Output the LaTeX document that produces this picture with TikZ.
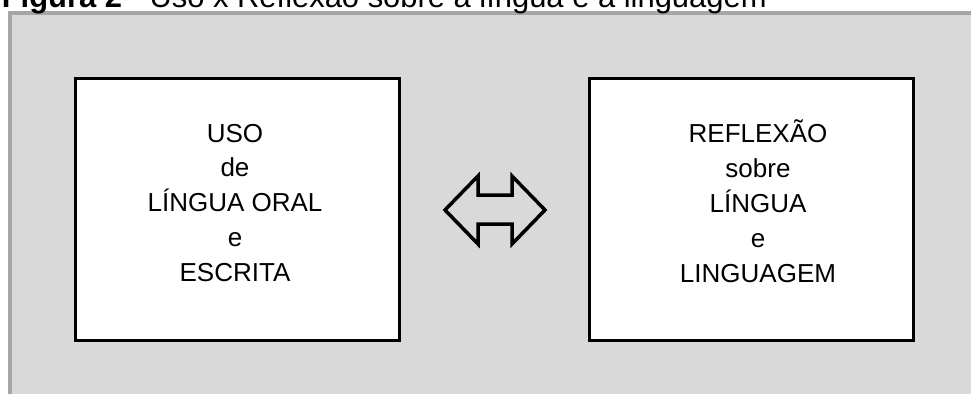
\documentclass[tikz,border=0pt]{standalone}
\usepackage{fontspec}
\setmainfont{Liberation Sans}

\begin{document}
\begin{tikzpicture}[x = 0.02cm, y = -0.02cm,
painel/.style = {draw = black!35, fill = black!15, line width = 0.08cm},
caixa/.style = {draw = black, fill = white, line width = 0.06cm, minimum width = 6.5cm, minimum height = 5.26cm, inner sep = 0},
texto/.style = {align = center, font = \fontsize{14.8pt}{19.9pt}\selectfont, inner sep = 0},
seta/.style = {draw = black, line width = 0.07cm, line join = miter},
]
\clip (0, 0) rectangle (971, 393);
\fill[white] (0, 0) rectangle (971, 393);
\draw[painel] (10, 13) rectangle (990, 410);
\node[anchor = base east, inner sep = 0, font = \fontsize{17.6pt}{20pt}\selectfont] (T) at (767, 7) {\textbf{Figura 2} - Uso x Reflexão sobre a língua e a linguagem};

\node[caixa] (A) at (237.5, 209.5) {};
\node[caixa] (B) at (751.5, 209.5) {};
\node[texto] (A1) at (235, 203) {USO\\de\\LÍNGUA ORAL\\e\\ESCRITA};
\node[texto] (B1) at (758, 201) {REFLEXÃO\\sobre\\LÍNGUA\\e\\LINGUAGEM};

\coordinate (S) at (495, 210);
\draw[seta] ([shift = {(-50, 0)}]S) -- ++(33, -34) -- ++(0, 19) -- ++(34, 0) -- ++(0, -19) -- ++(33, 34) -- ++(-33, 34) -- ++(0, -20) -- ++(-34, 0) -- ++(0, 20) -- cycle;
\end{tikzpicture}
\end{document}
